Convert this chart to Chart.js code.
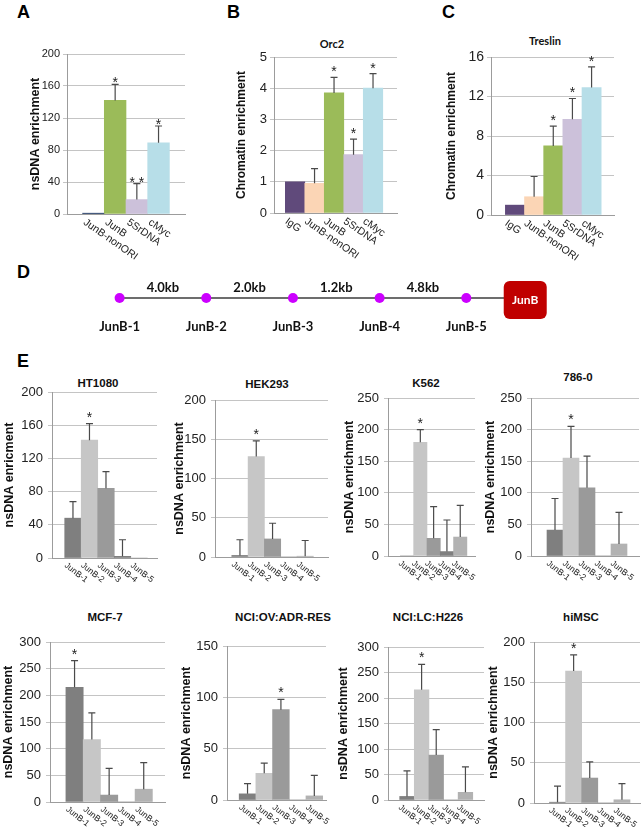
<!DOCTYPE html>
<html><head><meta charset="utf-8">
<script src="https://cdn.jsdelivr.net/npm/chart.js@4.4.0/dist/chart.umd.min.js"></script>
<style>
body{margin:0;background:#fff;width:642px;height:827px;position:relative;overflow:hidden;font-family:"Liberation Sans",Arial,sans-serif;}
canvas{position:absolute;}
.letter{position:absolute;font-weight:bold;font-size:18px;color:#000;line-height:1;}
.ttl{position:absolute;font-weight:bold;color:#111;white-space:nowrap;transform:translate(-50%,-50%);line-height:1;}
</style></head><body>
<script>
// ---------------- DATA ----------------
const aCategories = ['JunB-nonORI', 'JunB', '5SrDNA', 'cMyc'];
const aMean = [1, 142, 18, 89];
const aErr = [0, 20, 20, 21];
const aStars = ['', '*', '* *', '*'];
const aTicks = [0, 40, 80, 120, 160, 200];

const bcCategories = ['IgG', 'JunB-nonORI', 'JunB', '5SrDNA', 'cMyc'];
const orc2Mean = [1.0, 0.95, 3.85, 1.87, 4.0];
const orc2Err = [0, 0.47, 0.5, 0.5, 0.47];
const orc2Stars = ['', '', '*', '*', '*'];
const orc2Ticks = [0, 1, 2, 3, 4, 5];

const treslinMean = [1.0, 1.85, 7.0, 9.7, 12.9];
const treslinErr = [0, 2.05, 2.0, 2.1, 2.1];
const treslinStars = ['', '', '*', '*', '*'];
const treslinTicks = [0, 4, 8, 12, 16];

const sites = ['JunB-1', 'JunB-2', 'JunB-3', 'JunB-4', 'JunB-5'];
const siteGaps = ['4.0kb', '2.0kb', '1.2kb', '4.8kb'];
const geneName = 'JunB';
const genePos = 4.68;

const ht1080Mean = [48, 142, 84, 2, 0];
const ht1080Err = [20, 20, 20, 20, 0];
const ht1080Stars = ['', '*', '', '', ''];
const ht1080Ticks = [0, 40, 80, 120, 160, 200];

const hek293Mean = [2, 128, 23, 0, 1];
const hek293Err = [20, 20, 20, 0, 20];
const hek293Stars = ['', '*', '', '', ''];
const hek293Ticks = [0, 50, 100, 150, 200];

const k562Mean = [0, 180, 28, 7, 30];
const k562Err = [0, 20, 50, 50, 50];
const k562Stars = ['', '*', '', '', ''];
const k562Ticks = [0, 50, 100, 150, 200, 250];

const c7860Mean = [41, 155, 108, 0, 19];
const c7860Err = [50, 50, 50, 0, 50];
const c7860Stars = ['', '*', '', '', ''];
const c7860Ticks = [0, 50, 100, 150, 200, 250];

const mcf7Mean = [215, 117, 13, 0, 24];
const mcf7Err = [50, 50, 50, 0, 50];
const mcf7Stars = ['*', '', '', '', ''];
const mcf7Ticks = [0, 50, 100, 150, 200, 250, 300];

const ovMean = [6, 26, 88, 0, 4];
const ovErr = [10, 10, 10, 0, 20];
const ovStars = ['', '', '*', '', ''];
const ovTicks = [0, 50, 100, 150];

const h226Mean = [7, 216, 88, 0, 15];
const h226Err = [50, 50, 50, 0, 50];
const h226Stars = ['', '*', '', '', ''];
const h226Ticks = [0, 50, 100, 150, 200, 250, 300];

const himscMean = [1, 164, 31, 0, 4];
const himscErr = [20, 20, 20, 0, 20];
const himscStars = ['', '*', '', '', ''];
const himscTicks = [0, 50, 100, 150, 200];

// ---------------- STYLE ----------------
const GRID = '#c4c4c4', AXIS = '#9c9c9c', ERR = '#4a4a4a';
const abcColorsA = ['#1f3864', '#9bbb59', '#ccc1da', '#b7dee8'];
const abcColors = ['#604a7b', '#fbd5b5', '#9bbb59', '#ccc1da', '#b7dee8'];
const grayColors = ['#7f7f7f', '#c6c6c6', '#9a9a9a', '#7f7f7f', '#b2b2b2'];
const FONT = '"Liberation Sans", Arial, sans-serif';

function addText(cls, txt, x, y, size, family) {
  const d = document.createElement('div');
  d.className = cls; d.textContent = txt;
  d.style.left = x + 'px'; d.style.top = y + 'px';
  if (size) d.style.fontSize = size + 'px';
  if (family) d.style.fontFamily = family;
  document.body.appendChild(d);
}

function barPanel(c) {
  const cv = document.createElement('canvas');
  cv.width = c.box.w; cv.height = c.box.h;
  cv.style.left = c.box.x + 'px'; cv.style.top = c.box.y + 'px';
  document.body.appendChild(cv);
  const Wy = c.plot.l - c.titleX + c.yTitleSize / 2;
  const Hx = 6;
  const pad = {
    left: c.plot.l - c.box.x - Wy,
    top: c.plot.t - c.box.y,
    right: c.box.x + c.box.w - c.plot.r,
    bottom: c.box.y + c.box.h - c.plot.b - Hx
  };
  const ticks = c.ticks;
  new Chart(cv, {
    type: 'bar',
    data: { datasets: [{
      data: c.mean.map((v, i) => ({ x: i, y: v })),
      backgroundColor: c.colors, borderWidth: 0,
      barPercentage: 1, categoryPercentage: 1
    }] },
    options: {
      responsive: false, animation: false, devicePixelRatio: 1,
      layout: { padding: pad },
      plugins: { legend: { display: false }, tooltip: { enabled: false } },
      scales: {
        x: {
          type: 'linear', min: c.xmin, max: c.xmax, offset: false,
          grid: { display: false }, border: { display: true, color: AXIS, width: 1 },
          ticks: { display: false },
          afterBuildTicks: s => { s.ticks = c.labels.map((_, i) => ({ value: i })); },
          afterFit: s => { s.height = Hx; }
        },
        y: {
          min: ticks[0], max: ticks[ticks.length - 1],
          grid: { color: GRID, tickLength: c.tickLen, drawTicks: true },
          border: { display: true, color: AXIS, width: 1 },
          ticks: { stepSize: ticks[1] - ticks[0], font: { family: FONT, size: c.tickSize }, color: '#222', padding: c.tickPad },
          title: { display: true, text: c.yTitle, color: '#111', padding: 0,
                   font: { family: FONT, size: c.yTitleSize, weight: 'bold', lineHeight: 1 } },
          afterFit: s => { s.width = Wy; }
        }
      }
    },
    plugins: [{
      id: 'deco',
      afterDraw(chart) {
        const ctx = chart.ctx, ys = chart.scales.y, meta = chart.getDatasetMeta(0);
        const bottom = chart.chartArea.bottom;
        ctx.save();
        c.mean.forEach((m, i) => {
          const el = meta.data[i];
          const x = el.x;
          let top = ys.getPixelForValue(m);
          if (c.err[i] > 0) {
            const yt = ys.getPixelForValue(m + c.err[i]);
            ctx.strokeStyle = ERR; ctx.lineWidth = 1.2;
            ctx.beginPath();
            ctx.moveTo(x, top); ctx.lineTo(x, yt);
            ctx.moveTo(x - 3.5, yt); ctx.lineTo(x + 3.5, yt);
            ctx.stroke();
            top = yt;
          }
          if (c.stars[i]) {
            ctx.fillStyle = '#222';
            ctx.font = c.starSize + 'px ' + FONT;
            ctx.textAlign = 'center'; ctx.textBaseline = 'alphabetic';
            ctx.fillText(c.stars[i], x, top + c.starDy);
          }
          ctx.save();
          ctx.translate(x + c.lblDx, bottom + c.lblDy);
          ctx.rotate(c.angle * Math.PI / 180);
          ctx.fillStyle = '#222';
          ctx.font = c.lblSize + 'px ' + FONT;
          ctx.textAlign = 'left'; ctx.textBaseline = 'top';
          ctx.fillText(c.labels[i], 0, 0);
          ctx.restore();
        });
        ctx.restore();
      }
    }]
  });
}

// Panel letters
addText('letter', 'A', 17, 3);
addText('letter', 'B', 227, 3);
addText('letter', 'C', 442, 3);
addText('letter', 'D', 17, 263);
addText('letter', 'E', 17, 352);

// Top row titles
addText('ttl', 'Orc2', 332, 43, 11, 'Lato, sans-serif');
addText('ttl', 'Treslin', 545, 40, 11, 'Lato, sans-serif');

const abcStyle = { yTitleSize: 12.5, tickLen: 4, tickPad: 3, lblSize: 10.5, angle: 35, lblDx: -6, lblDy: 3, starSize: 14 };

barPanel(Object.assign({}, abcStyle, {
  box: { x: 0, y: 30, w: 210, h: 245 }, plot: { l: 67, t: 54, r: 185, b: 214 },
  xmin: -1.22, xmax: 4.22, titleX: 36, tickSize: 11, starDy: 3,
  labels: aCategories, mean: aMean, err: aErr, stars: aStars, ticks: aTicks,
  colors: abcColorsA, yTitle: 'nsDNA enrichment'
}));
barPanel(Object.assign({}, abcStyle, {
  box: { x: 215, y: 30, w: 205, h: 245 }, plot: { l: 274, t: 57, r: 397, b: 213 },
  xmin: -1.08, xmax: 5.23, titleX: 242, tickSize: 13, starDy: -1, yTitleSize: 12,
  labels: bcCategories, mean: orc2Mean, err: orc2Err, stars: orc2Stars, ticks: orc2Ticks,
  colors: abcColors, yTitle: 'Chromatin enrichment'
}));
barPanel(Object.assign({}, abcStyle, {
  box: { x: 425, y: 30, w: 217, h: 245 }, plot: { l: 491, t: 57, r: 614, b: 215 },
  xmin: -1.25, xmax: 5.17, titleX: 452, tickSize: 14, starDy: -1, yTitleSize: 12,
  labels: bcCategories, mean: treslinMean, err: treslinErr, stars: treslinStars, ticks: treslinTicks,
  colors: abcColors, yTitle: 'Chromatin enrichment'
}));

// Panel D: schematic
(function () {
  const box = { x: 60, y: 260, w: 540, h: 76 };
  const cv = document.createElement('canvas');
  cv.width = box.w; cv.height = box.h;
  cv.style.left = box.x + 'px'; cv.style.top = box.y + 'px';
  document.body.appendChild(cv);
  const pts = sites.map((s, i) => ({ x: i, y: 0 }));
  pts.push({ x: genePos, y: 0 });
  new Chart(cv, {
    type: 'line',
    data: { datasets: [{
      data: pts, borderColor: '#3c3c3c', borderWidth: 1.6,
      pointRadius: ctx => ctx.dataIndex < sites.length ? 5 : 0,
      pointBackgroundColor: '#cc00ff', pointBorderColor: '#cc00ff', pointBorderWidth: 0
    }] },
    options: {
      responsive: false, animation: false, devicePixelRatio: 1,
      layout: { padding: 0 },
      plugins: { legend: { display: false }, tooltip: { enabled: false } },
      scales: {
        x: { type: 'linear', display: false, min: -0.63, max: 5.485 },
        y: { display: false, min: -1, max: 1 }
      }
    },
    plugins: [{
      id: 'schem',
      afterDraw(chart) {
        const ctx = chart.ctx, xs = chart.scales.x, ys = chart.scales.y;
        const y0 = ys.getPixelForValue(0);
        ctx.save();
        const gx = xs.getPixelForValue(genePos);
        ctx.fillStyle = '#c00000';
        ctx.beginPath();
        ctx.roundRect(gx - 21.5, y0 - 17, 43, 38, 6);
        ctx.fill();
        ctx.fillStyle = '#fff';
        ctx.font = 'bold 12px Lato, sans-serif';
        ctx.textAlign = 'center'; ctx.textBaseline = 'middle';
        ctx.fillText(geneName, gx, y0 + 2);
        ctx.fillStyle = '#111';
        ctx.font = 'bold 13px Lato, sans-serif';
        siteGaps.forEach((g, i) => {
          const mx = (xs.getPixelForValue(i) + xs.getPixelForValue(i + 1)) / 2;
          ctx.fillText(g, mx, y0 - 10);
        });
        sites.forEach((s, i) => {
          ctx.fillText(s, xs.getPixelForValue(i), y0 + 29);
        });
        ctx.restore();
      }
    }]
  });
})();

// Panel E
const eStyle = { yTitleSize: 12.5, tickLen: 4, tickPad: 5, tickSize: 13, lblSize: 8.5, angle: 38, lblDx: -5, lblDy: 3, starSize: 14, starDy: -2, colors: grayColors, labels: sites, yTitle: 'nsDNA enrichment' };
const eTitle = 11.5;
addText('ttl', 'HT1080', 98, 384, eTitle);
addText('ttl', 'HEK293', 267, 385, eTitle);
addText('ttl', 'K562', 426, 384, eTitle);
addText('ttl', '786-0', 578, 378, eTitle);
addText('ttl', 'MCF-7', 105, 618, eTitle);
addText('ttl', 'NCI:OV:ADR-RES', 283, 618, eTitle);
addText('ttl', 'NCI:LC:H226', 428, 618, eTitle);
addText('ttl', 'hiMSC', 581, 618, eTitle);

barPanel(Object.assign({}, eStyle, { box: { x: 0, y: 368, w: 170, h: 232 }, plot: { l: 52, t: 392, r: 157, b: 558 }, xmin: -1.27, xmax: 5.09, titleX: 10,
  mean: ht1080Mean, err: ht1080Err, stars: ht1080Stars, ticks: ht1080Ticks, yTitle: 'nsDNA enricment' }));
barPanel(Object.assign({}, eStyle, { box: { x: 165, y: 368, w: 170, h: 232 }, plot: { l: 215, t: 400, r: 328, b: 557 }, xmin: -1.53, xmax: 5.4, titleX: 180,
  mean: hek293Mean, err: hek293Err, stars: hek293Stars, ticks: hek293Ticks }));
barPanel(Object.assign({}, eStyle, { box: { x: 338, y: 368, w: 145, h: 232 }, plot: { l: 388, t: 398, r: 475, b: 556 }, xmin: -1.43, xmax: 5.11, titleX: 350,
  mean: k562Mean, err: k562Err, stars: k562Stars, ticks: k562Ticks }));
barPanel(Object.assign({}, eStyle, { box: { x: 480, y: 368, w: 162, h: 232 }, plot: { l: 531, t: 398, r: 639, b: 556 }, xmin: -1.5, xmax: 5.25, titleX: 491,
  mean: c7860Mean, err: c7860Err, stars: c7860Stars, ticks: c7860Ticks }));

barPanel(Object.assign({}, eStyle, { box: { x: 0, y: 622, w: 170, h: 205 }, plot: { l: 50, t: 642, r: 165, b: 802 }, xmin: -1.42, xmax: 5.23, titleX: 9,
  mean: mcf7Mean, err: mcf7Err, stars: mcf7Stars, ticks: mcf7Ticks }));
barPanel(Object.assign({}, eStyle, { box: { x: 170, y: 622, w: 160, h: 205 }, plot: { l: 227, t: 646, r: 326, b: 800 }, xmin: -1.23, xmax: 4.7, titleX: 187,
  mean: ovMean, err: ovErr, stars: ovStars, ticks: ovTicks }));
barPanel(Object.assign({}, eStyle, { box: { x: 330, y: 622, w: 160, h: 205 }, plot: { l: 388, t: 647, r: 484, b: 800 }, xmin: -1.3, xmax: 5.27, titleX: 344,
  mean: h226Mean, err: h226Err, stars: h226Stars, ticks: h226Ticks }));
barPanel(Object.assign({}, eStyle, { box: { x: 485, y: 622, w: 157, h: 205 }, plot: { l: 534, t: 642, r: 640, b: 803 }, xmin: -1.46, xmax: 5.12, titleX: 494,
  mean: himscMean, err: himscErr, stars: himscStars, ticks: himscTicks }));
</script>
</body></html>
